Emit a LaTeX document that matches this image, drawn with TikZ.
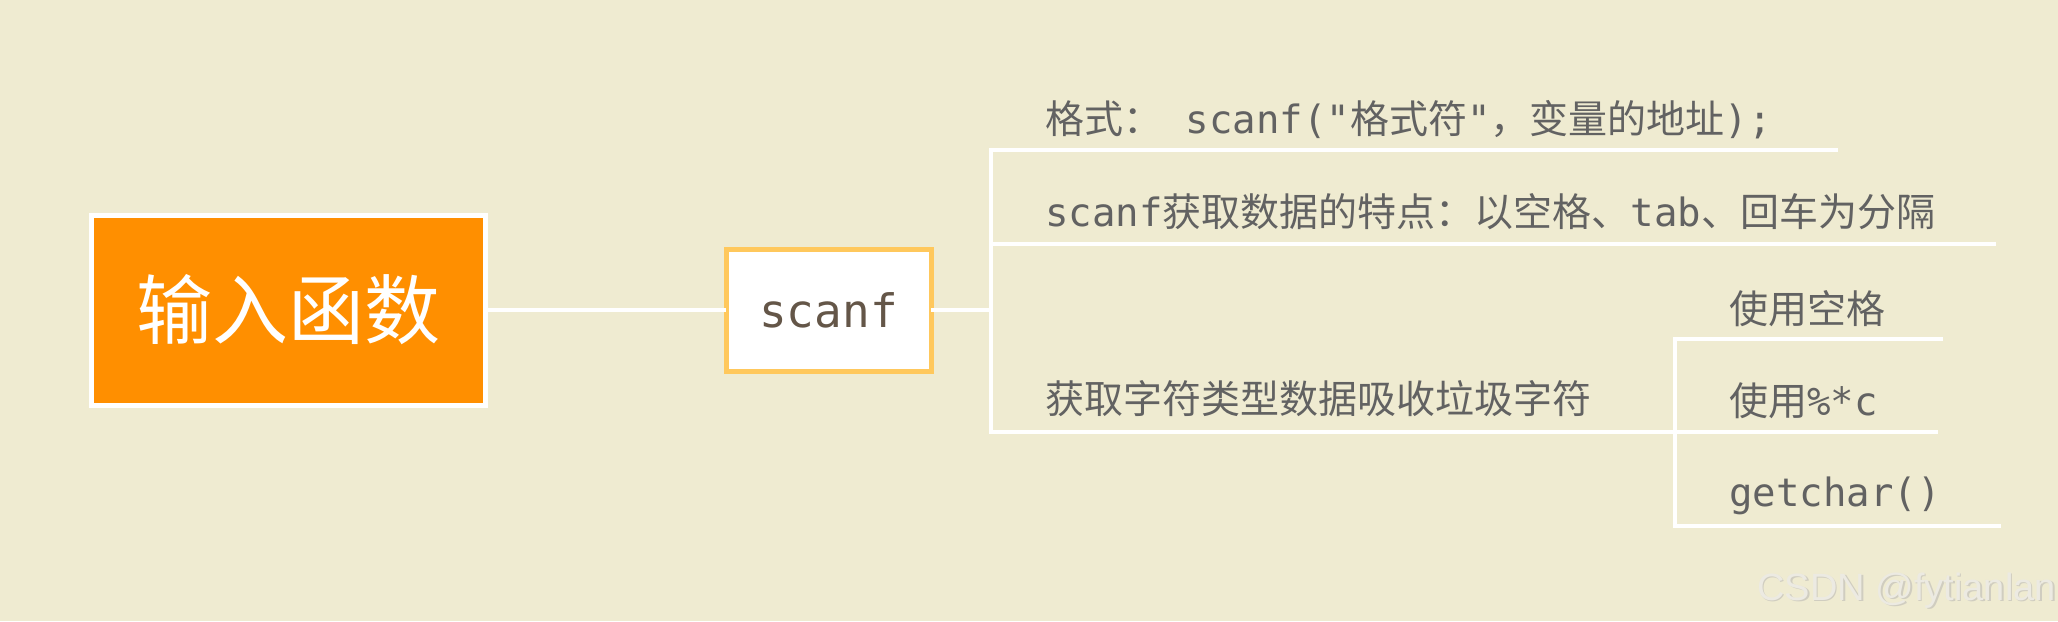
\documentclass[tikz,border=0pt]{standalone}
\usepackage{fontspec}
\setmonofont{DejaVu Sans Mono}
\newfontfamily\cjk{Noto Sans CJK SC}
\newfontfamily\wmfont{Liberation Sans}
\newcommand\mo[1]{{\ttfamily #1}}
\newcommand\zh[1]{{\cjk #1}}
\definecolor{bg}{RGB}{239,235,209}
\definecolor{rootorange}{RGB}{255,143,0}
\definecolor{scborder}{RGB}{255,200,92}
\definecolor{sctext}{RGB}{100,86,72}
\definecolor{txtgray}{RGB}{98,98,98}
\definecolor{wmcol}{RGB}{236,234,226}
\definecolor{wmshadow}{RGB}{208,205,192}
\tikzset{
  conn/.style={draw=white, line width=4.8pt, line join=miter, line cap=rect},
  rootbox/.style={draw=white, line width=5pt, fill=rootorange, minimum width=394pt, minimum height=190pt, inner sep=0pt, text=white, font=\cjk\fontsize{76pt}{80pt}\selectfont},
  scbox/.style={draw=scborder, line width=5pt, fill=white, minimum width=205pt, minimum height=122pt, inner sep=0pt, text=sctext, font=\ttfamily\fontsize{46pt}{50pt}\selectfont},
  leaf/.style={anchor=base west, inner sep=0pt, text=txtgray, font=\fontsize{39pt}{42pt}\selectfont},
  wmark/.style={anchor=base east, inner sep=0pt, font=\wmfont\fontsize{38pt}{40pt}\selectfont},
}
\begin{document}
\begin{tikzpicture}[x=1pt, y=-1pt]
\fill[bg] (0,0) rectangle (2058,621);
\useasboundingbox (0,0) rectangle (2058,621);

\node[rootbox] (root) at (288,310) {输入函数};
\node[scbox] (sc) at (828.5,310) {scanf};

\coordinate (j) at (991,310);
\coordinate (a1) at (991,150);
\coordinate (a1e) at (1836,150);
\coordinate (a2) at (991,244);
\coordinate (a2e) at (1994,244);
\coordinate (a3) at (991,432);
\coordinate (b1) at (1675,339);
\coordinate (b1e) at (1941,339);
\coordinate (b2e) at (1936,432);
\coordinate (b3) at (1675,526);
\coordinate (b3e) at (1999,526);

\draw[conn] (root.east) -- (sc.west);
\draw[conn] (sc.east) -- (j);
\draw[conn] (a1e) -- (a1) -- (a3) -- (b2e);
\draw[conn] (a2) -- (a2e);
\draw[conn] (b1e) -- (b1) -- (b3) -- (b3e);

\node[leaf] (t1) at (1045,133) {\zh{格式：}\mo{ scanf("}\zh{格式符}\mo{"}\zh{，变量的地址}\mo{);}};
\node[leaf] (t2) at (1045,226) {\mo{scanf}\zh{获取数据的特点：以空格、}\mo{tab}\zh{、回车为分隔}};
\node[leaf] (t3) at (1045,413) {\zh{获取字符类型数据吸收垃圾字符}};
\node[leaf] (s1) at (1729,323) {\zh{使用空格}};
\node[leaf] (s2) at (1729,415) {\zh{使用}\mo{\%*c}};
\node[leaf] (s3) at (1729,506) {\mo{getchar()}};

\node[wmark, text=wmshadow] (wms) at (2057.5,601.5) {CSDN @fytianlan};
\node[wmark, text=wmcol] (wm) at (2056,600) {CSDN @fytianlan};
\end{tikzpicture}
\end{document}
